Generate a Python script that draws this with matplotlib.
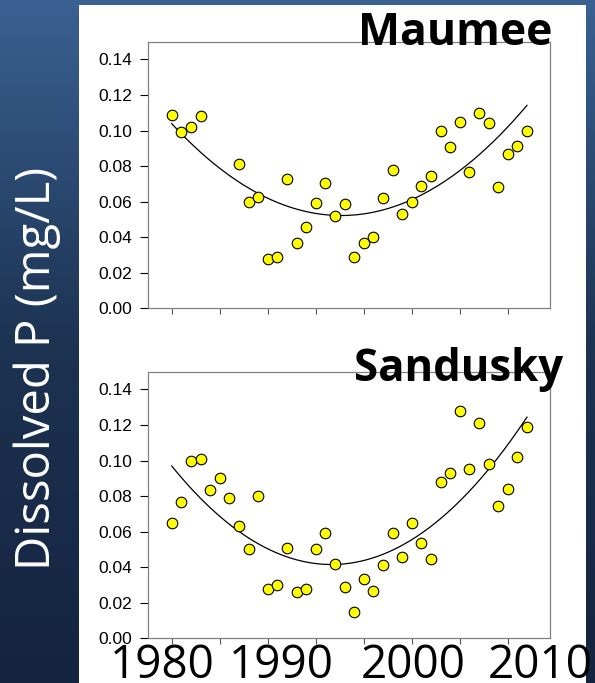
import matplotlib
matplotlib.use("Agg")
import matplotlib.pyplot as plt
import matplotlib.colors as mcolors
import numpy as np

# Datos (P disuelto, mg/L)
maumee_years = [1975, 1976, 1977, 1978,
                1982, 1983, 1984, 1985, 1986, 1987, 1988, 1989, 1990, 1991, 1992,
                1993, 1994, 1995, 1996, 1997, 1998, 1999, 2000, 2001, 2002, 2003,
                2004, 2005, 2006, 2007, 2008, 2009, 2010, 2011, 2012]
maumee_p = [0.109, 0.099, 0.102, 0.108,
            0.081, 0.060, 0.0625, 0.0275, 0.029, 0.073, 0.037, 0.046, 0.059, 0.0705, 0.052,
            0.0585, 0.029, 0.037, 0.040, 0.062, 0.078, 0.053, 0.060, 0.069, 0.0745, 0.100,
            0.091, 0.105, 0.0765, 0.110, 0.104, 0.068, 0.087, 0.0915, 0.0995]

sandusky_years = list(range(1975, 2013))
sandusky_p = [0.065, 0.0765, 0.100, 0.101, 0.0835, 0.090, 0.079, 0.063, 0.0505, 0.080,
              0.028, 0.030, 0.051, 0.026, 0.0275, 0.0505, 0.059, 0.042, 0.029, 0.015,
              0.0335, 0.0268, 0.041, 0.059, 0.0456, 0.065, 0.0535, 0.0445, 0.088, 0.093,
              0.128, 0.095, 0.121, 0.098, 0.0747, 0.084, 0.102, 0.119]

rivers = ["Maumee", "Sandusky"]
year_labels = ["1980", "1990", "2000", "2010"]
ylabel = "Dissolved P (mg/L)"

W, H = 595, 683
fig = plt.figure(figsize=(W / 100, H / 100), dpi=100)

# fondo azul degradado + panel blanco
bg = fig.add_axes([0, 0, 1, 1], zorder=-10)
cmap = mcolors.LinearSegmentedColormap.from_list("bg", ["#14243f", "#1d3352", "#3a6192"])
grad = np.linspace(0, 1, 256).reshape(-1, 1)
bg.imshow(grad, cmap=cmap, aspect="auto", extent=[0, 1, 0, 1], origin="lower")
bg.add_patch(plt.Rectangle((79 / W, 0), (586 - 79) / W, 1 - 5 / H,
                           facecolor="white", edgecolor="none"))
bg.set_xlim(0, 1)
bg.set_ylim(0, 1)
bg.axis("off")

left = 148.3 / W
width = (550 - 148.3) / W
height = (308.3 - 41.7) / H
bottoms = [1 - 308.3 / H, 1 - 638.3 / H]

for river, years, vals, bottom in zip(rivers, [maumee_years, sandusky_years],
                                       [maumee_p, sandusky_p], bottoms):
    ax = fig.add_axes([left, bottom, width, height])
    x = np.array(years)
    y = np.array(vals)
    coef = np.polyfit(x - 1990, y, 2)
    xx = np.linspace(x.min(), x.max(), 200)
    ax.plot(xx, np.polyval(coef, xx - 1990), color="black", lw=0.9, zorder=2)
    ax.scatter(x, y, s=58, facecolor="#ffff00", edgecolor="black", linewidth=0.8, zorder=3)
    ax.set_xlim(1972.56, 2014.4)
    ax.set_ylim(0, 0.15)
    ax.set_yticks(np.arange(0, 0.141, 0.02))
    ax.set_yticklabels(["%.2f" % v for v in np.arange(0, 0.141, 0.02)],
                       fontsize=12.5, family="Liberation Sans")
    ax.set_xticks(range(1975, 2011, 5))
    ax.set_xticklabels([])
    ax.tick_params(axis="y", length=5.5, width=0.8, pad=6, color="black")
    ax.tick_params(axis="x", length=4, width=0.8, color="#555555")
    for sp in ax.spines.values():
        sp.set_color("#808080")
        sp.set_linewidth(0.9)

# titulos
fig.text(358 / W, 1 - 45 / H, "Maumee", fontsize=32, fontweight="bold",
         family="Open Sans", va="baseline", ha="left")
fig.text(354 / W, 1 - 381 / H, "Sandusky", fontsize=31.5, fontweight="bold",
         family="Open Sans", va="baseline", ha="left")

# etiqueta del eje y
fig.text(50 / W, 1 - 368.5 / H, ylabel, rotation=90, rotation_mode="anchor",
         ha="center", va="baseline", color="white", fontsize=34, family="Open Sans")

# años grandes abajo
for lab, cx in zip(year_labels, [162.3, 281.7, 413.3, 540]):
    fig.text(cx / W, 1 - 678 / H, lab, ha="center", va="baseline",
             fontsize=33, family="Open Sans", color="black")

fig.savefig("out.png", dpi=100)
